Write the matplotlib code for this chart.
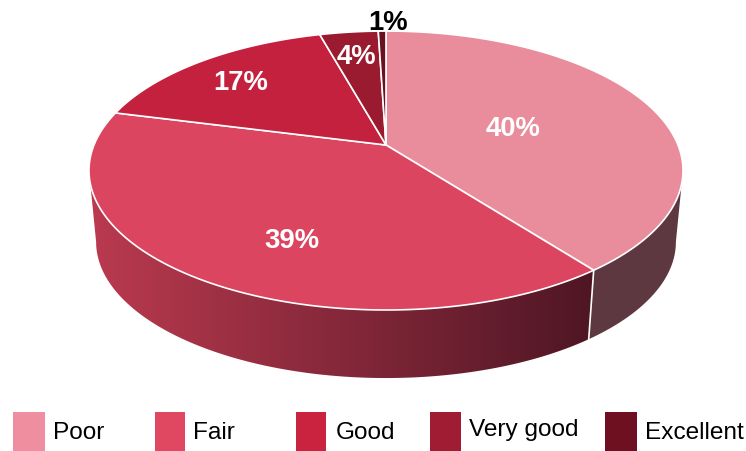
import numpy as np
import matplotlib
matplotlib.use("Agg")
import matplotlib.pyplot as plt
from matplotlib.patches import Polygon, Rectangle
from matplotlib.colors import LinearSegmentedColormap

plt.rcParams['font.family'] = ['Liberation Sans', 'DejaVu Sans']

categorie = ["Poor", "Fair", "Good", "Very good", "Excellent"]
valori = [39.6, 39.4, 16.7, 3.8, 0.5]  # le etichette sono arrotondate
etichette = ["40%", "39%", "17%", "4%", "1%"]
colori = ["#E98C9C", "#DC4560", "#C4213F", "#9A1A30", "#6A1020"]
colori_legenda = ["#EE8E9F", "#E04862", "#C9233F", "#A01C32", "#6E1020"]

# geometria della torta in prospettiva (pixel)
CX, CY = 386, 145
A, B, K = 292, 134.8, -0.183
SCALA_BASE, DY_BASE = 0.976, 72

pos_etichette = [(513, 129), (292, 241), (241, 83), (356, 57), (388, 23)]
colori_etichette = ["white", "white", "white", "white", "black"]
pos_legenda = [13, 155, 296, 430, 605]
larg_legenda = [32, 30, 30, 31, 32]
pos_testo = [53, 193, 336, 469, 645]
y_testo = [433, 433, 433, 430, 433]


def punto(ang, base=False):
    """Angolo in gradi in senso orario dall'alto -> pixel sulla torta"""
    t = np.radians(ang)
    x = np.sin(t)
    y = -np.cos(t)
    den = 1 + K * y
    px = A * x / den
    py = B * y / den
    if base:
        return CX + SCALA_BASE * px, CY + DY_BASE + SCALA_BASE * py
    return CX + px, CY + py


def lato(ang0, ang1):
    """Poligono del lato tra due angoli"""
    a = np.linspace(ang0, ang1, 200)
    xs, ys = punto(a)
    xb, yb = punto(a[::-1], base=True)
    return np.column_stack([np.r_[xs, xb], np.r_[ys, yb]])


fig = plt.figure(figsize=(7.46, 4.51), dpi=100)
ax = fig.add_axes([0, 0, 1, 1])
ax.axis("off")

angoli = np.r_[0, np.cumsum(valori)] / np.sum(valori) * 360

# lato: Poor piatto, Fair sfumato da sinistra a destra
ax.add_patch(Polygon(lato(100.5, angoli[1]), facecolor="#5E3840",
                     edgecolor="none", zorder=2))
sfondo = Polygon(lato(angoli[1], 259.5), facecolor="none", edgecolor="none")
ax.add_patch(sfondo)
mappa = LinearSegmentedColormap.from_list("lato", ["#BC3A50", "#4E1624"])
im = ax.imshow(np.linspace(0, 1, 256).reshape(1, -1), cmap=mappa, aspect="auto",
               extent=(85, 595, 390, 150), zorder=2)
im.set_clip_path(sfondo)
ax.set_xlim(0, 746)
ax.set_ylim(451, 0)

x0, y0 = punto(angoli[1])
x1, y1 = punto(angoli[1], base=True)
ax.plot([x0, x1], [y0, y1], color="white", lw=1.2, zorder=3)

# faccia superiore
for i in range(len(valori)):
    a = np.linspace(angoli[i], angoli[i + 1], 200)
    xs, ys = punto(a)
    ax.add_patch(Polygon(np.column_stack([np.r_[CX, xs], np.r_[CY, ys]]),
                         facecolor=colori[i], edgecolor="white", lw=1.2,
                         joinstyle="round", zorder=4))

for i in range(len(etichette)):
    ax.text(pos_etichette[i][0], pos_etichette[i][1], etichette[i],
            color=colori_etichette[i], fontsize=19.8, fontweight="bold",
            ha="center", va="center", zorder=5)

# legenda
for i in range(len(categorie)):
    ax.add_patch(Rectangle((pos_legenda[i], 412), larg_legenda[i], 39,
                           facecolor=colori_legenda[i], edgecolor="none"))
    ax.text(pos_testo[i], y_testo[i], categorie[i], color="black",
            fontsize=17.6, ha="left", va="center")

fig.savefig("out.png", dpi=100)
